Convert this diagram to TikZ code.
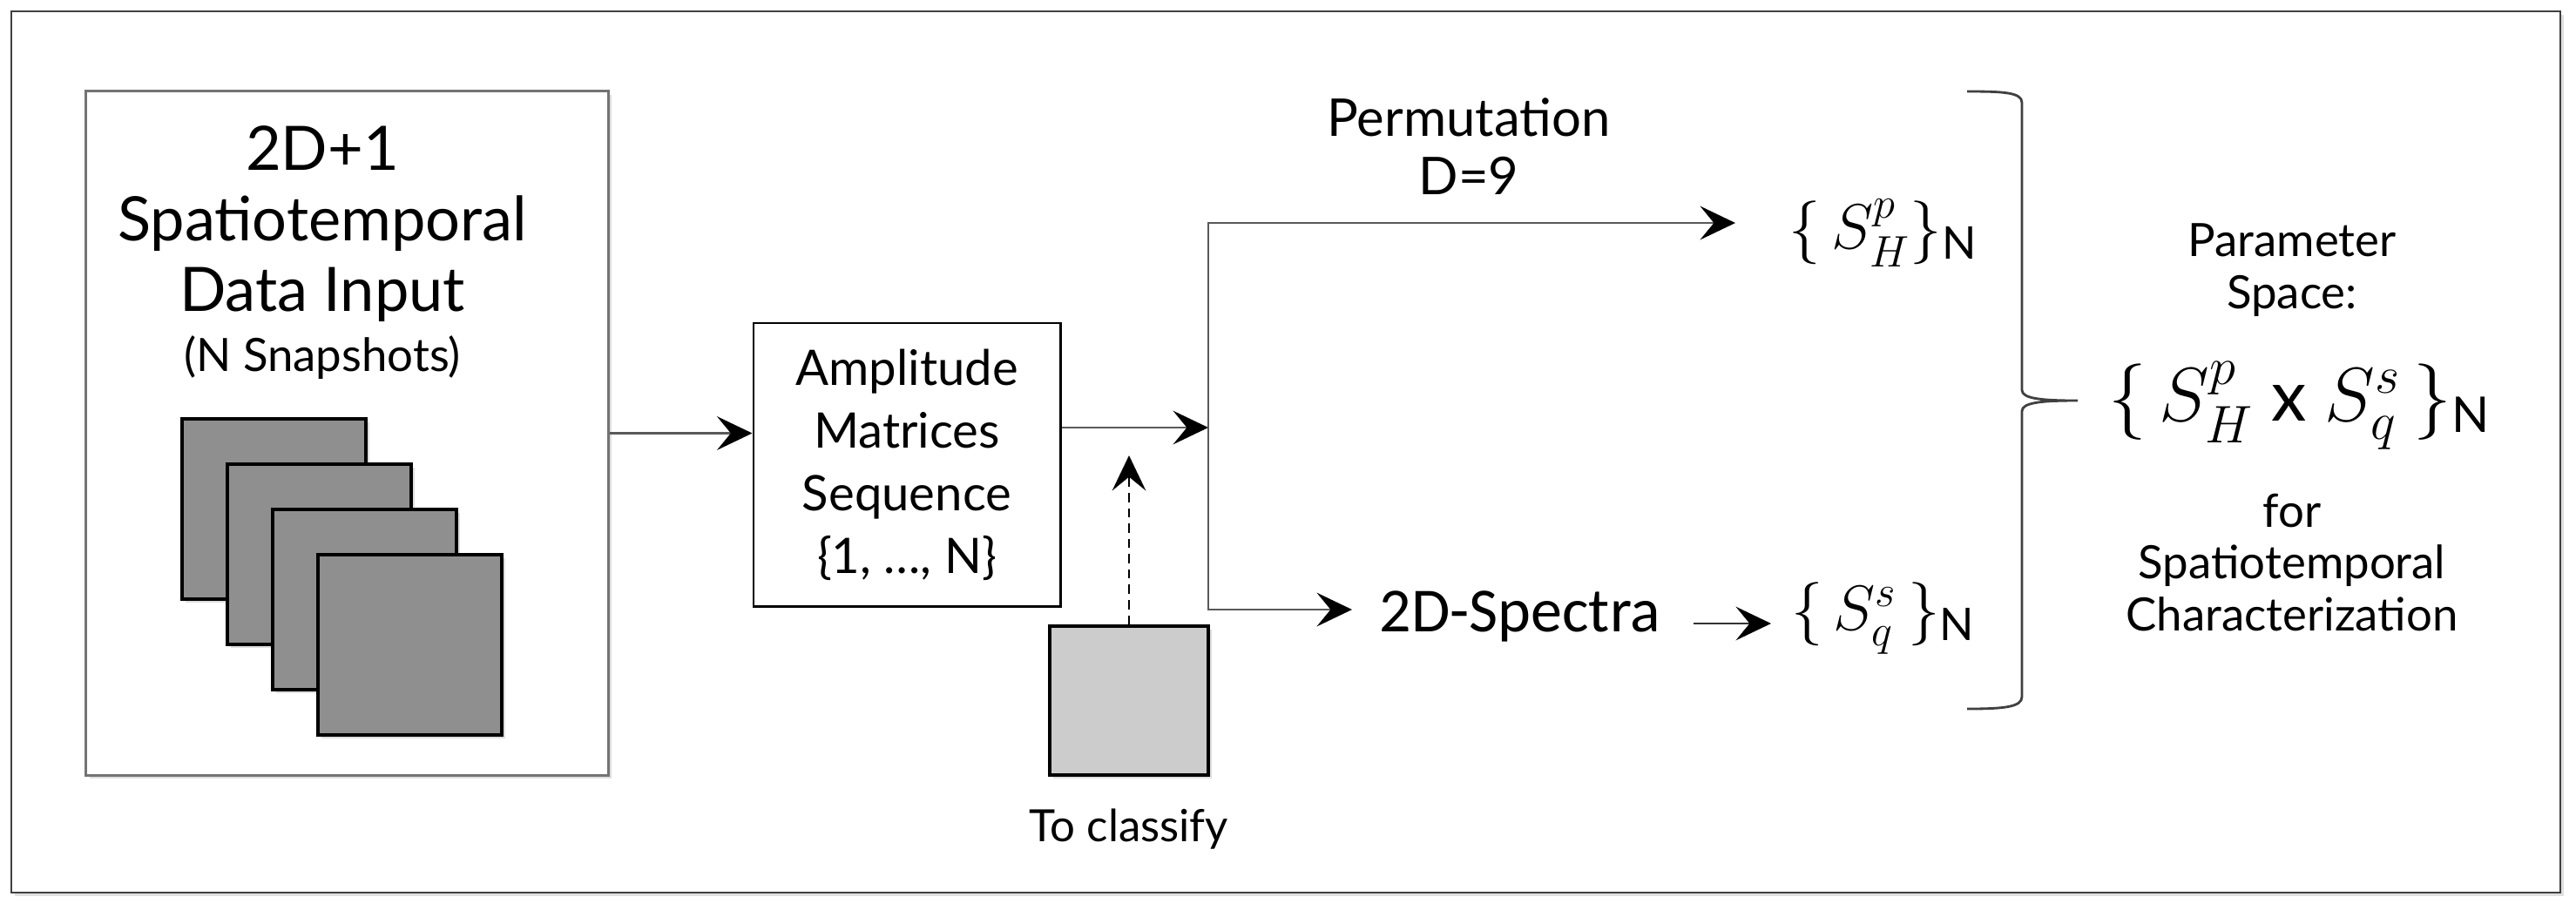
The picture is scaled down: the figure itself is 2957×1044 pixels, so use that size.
\documentclass[tikz,border=0pt]{standalone}
\usepackage{amsmath}
\usepackage{fontspec}
\setmainfont{Lato}
\newfontfamily\calfont{Carlito}
\usetikzlibrary{arrows.meta, positioning, calc, shadows}

\begin{document}
\begin{tikzpicture}[x=0.01cm, y=-0.01cm,
    >={Stealth[length=11.5pt, width=11pt, inset=4.5pt, color=black]},
    link/.style={draw=black!65, line width=0.8pt},
    softshadow/.style={drop shadow={shadow xshift=1.2pt, shadow yshift=-1.2pt, opacity=0.25}},
    snap/.style={draw, line width=1pt, fill=black!44, minimum width=2.11cm, minimum height=2.07cm, softshadow},
    txt/.style={align=center, inner sep=0pt}]
                \useasboundingbox (0,0) rectangle (2957,1044);
                \draw[draw=black!75, line width=0.8pt, fill=white, softshadow] (13,13) rectangle (2939,1025);
                % input data
                \node[draw=black!55, line width=0.8pt, fill=white, minimum width=5.99cm, minimum height=7.85cm, softshadow] (input) at (398.5,497.5) {};
                \node[txt, font=\fontsize{20}{23}\selectfont] (title) at (370,257) {2D+1\\Spatiotemporal\\Data Input};
                \node[txt, font=\fontsize{15}{18}\selectfont] (snaps) at (370,411) {(N Snapshots)};
                \foreach \i in {0,...,3}
                    \node[snap] (snap\i) at (314.5+52*\i, 584.5+52*\i) {};
                % amplitude matrices
                \node[draw, line width=0.8pt, minimum width=3.52cm, minimum height=3.25cm, align=center, font=\fontsize{16}{20.5}\selectfont] (amp) at (1041,533.5) {Amplitude\\Matrices\\Sequence\\\{1, …, N\}};
                \draw[link, ->] (input.east) -- (input.east -| amp.west);
                % branches
                \coordinate (split) at (1387,491);
                \coordinate (up) at (1387,256);
                \coordinate (down) at (1387,700);
                \coordinate (upend) at (1992,256);
                \coordinate (downend) at (1552,700);
                \node[draw, line width=1pt, fill=black!20, minimum width=1.82cm, minimum height=1.71cm, softshadow] (clf) at (1296,804.5) {};
                \node[font=\fontsize{14.5}{17}\selectfont, inner sep=0pt, below=0.36cm of clf] (clflbl) {To classify};
                \coordinate (clfin) at (1296,523);
                \draw[link, ->] (amp.east |- split) -- (split);
                \draw[black, line width=0.6pt, densely dashed, ->] (clf.north) -- (clfin);
                \node[txt, font=\fontsize{17}{19}\selectfont] (perm) at (1686,168) {Permutation\\D=9};
                \node[font=\fontsize{21}{25}\selectfont, inner sep=0pt] (sh) at (2162,268) {$\{\,S^p_H\}_{\text{N}}$};
                \node[font=\calfont\fontsize{20.5}{24}\selectfont, inner sep=0pt] (spec) at (1745,708) {2D-Spectra};
                \node[font=\fontsize{21}{25}\selectfont, inner sep=0pt] (sq) at (2162,710) {$\{\,S^s_q\,\}_{\text{N}}$};
                \coordinate (specout) at (1944,716);
                \coordinate (sqin) at (2033,716);
                \draw[link, ->] (split) -- (up) -- (upend);
                \draw[link, ->] (split) -- (down) -- (downend);
                \draw[black!80, line width=0.6pt, ->] (specout) -- (sqin);
                % parameter space brace
                \draw[black!75, line width=0.8pt]
                    (2258,105) .. controls (2300,105) and (2321,106) .. (2321,118) -- (2321,448)
                    .. controls (2321,458) and (2345,460) .. (2385,460)
                    .. controls (2345,460) and (2321,462) .. (2321,472) -- (2321,800)
                    .. controls (2321,812) and (2300,814) .. (2258,814);
                \node[txt, font=\fontsize{15}{17}\selectfont] (param) at (2631,310) {Parameter\\Space:};
                \node[font=\fontsize{23}{27}\selectfont, inner sep=0pt] (prod) at (2640,466) {$\{\,S^p_H\ \text{x}\ S^s_q\,\}_{\text{N}}$};
                \node[txt, font=\fontsize{15}{17}\selectfont] (char) at (2631,646) {for\\Spatiotemporal\\Characterization};
            \end{tikzpicture}
\end{document}
